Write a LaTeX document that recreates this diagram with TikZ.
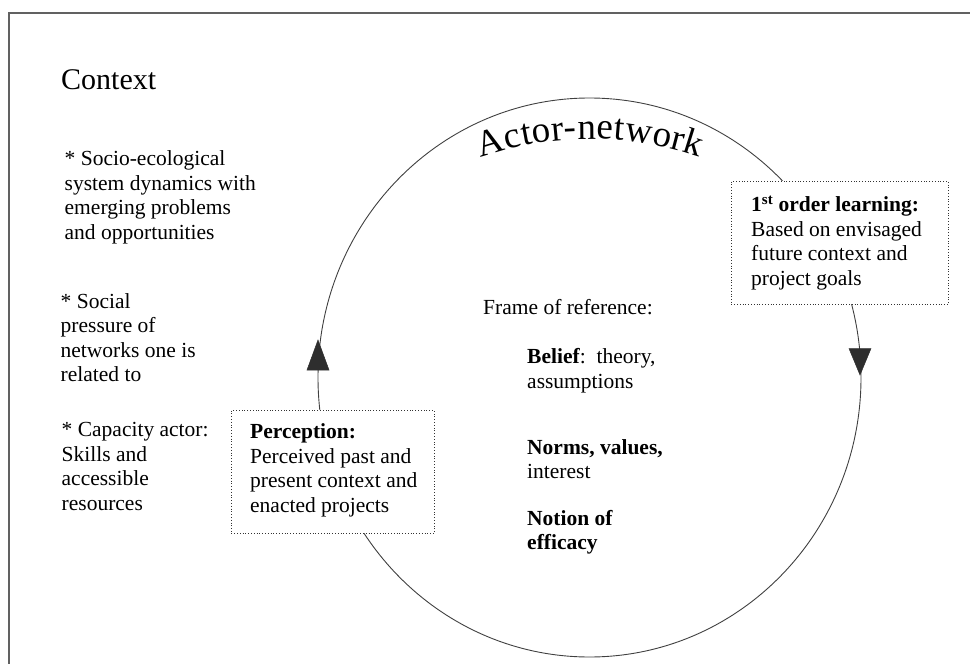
\documentclass[tikz,border=0pt]{standalone}
\usepackage{fontspec}
\setmainfont{Liberation Serif}
\usetikzlibrary{shapes.geometric,decorations.text}
\begin{document}
\begin{tikzpicture}[x=1pt,y=1pt,
  body/.style={inner sep=0pt, anchor=north west, align=left, font=\fontsize{21.5}{24.5}\selectfont},
  single/.style={inner sep=0pt, anchor=base west, font=\fontsize{21.5}{24.5}\selectfont},
  learnbox/.style={draw=black!80, dotted, fill=white, line width=0.8pt, inner sep=0pt, anchor=north west},
  loopline/.style={draw=black!75, line width=0.9pt},
  arrowhd/.style={fill=black!82, draw=black!82, line width=0.5pt},
  framecol/.style={draw=black!62, line width=1.6pt}
]
\useasboundingbox (0,0) rectangle (970,-664);
% outer frame (top and left edges)
\coordinate (ftr) at (970,-13);
\coordinate (ftl) at (9,-13);
\coordinate (fbl) at (9,-664);
\draw[framecol] (ftr) -- (ftl) -- (fbl);

% actor-network cycle
\node[ellipse, loopline, minimum width=543, minimum height=559, inner sep=0pt] (cyc) at (589.5,-377.5) {};
\path[decorate, decoration={text along path, text align={fit to path},
  text={|\fontsize{37}{42}\selectfont|Actor-network}}]
  (590,-475) ++(109:336) arc[start angle=109, end angle=71, radius=336];

% arrowheads on the cycle
\coordinate (uptip) at (318,-340);
\coordinate (dntip) at (860,-375);
\fill[arrowhd] (uptip) -- ++(-11,-30) -- ++(22,0) -- cycle;
\fill[arrowhd] (dntip) -- ++(-11,26.5) -- ++(22,0) -- cycle;

% boxes
\node[learnbox, minimum width=203, minimum height=123] (percbox) at (231,-410) {};
\node[learnbox, minimum width=217, minimum height=123] (learnbx) at (731,-181) {};

% context column
\node[inner sep=0pt, anchor=base west, font=\fontsize{30}{34}\selectfont] (ctx) at (61,-89.5) {Context};
\node[body] (ctx1) at (64.5,-150.5) {* Socio-ecological\\system dynamics with\\emerging problems\\and opportunities};
\node[body] (ctx2) at (60.5,-293) {* Social\\pressure of\\networks one is\\related to};
\node[body] (ctx3) at (61.5,-422.5) {* Capacity actor:\\Skills and\\accessible\\resources};

% box texts
\node[body] (perc) at (250,-423.5) {\textbf{Perception:}\\Perceived past and\\present context and\\enacted projects};
\node[body] (learn) at (751,-195.5) {\textbf{1\textsuperscript{st} order learning:}\\Based on envisaged\\future context and\\project goals};

% frame of reference
\node[single] (frame) at (483,-314) {Frame of reference:};
\node[body] (belief) at (527,-348.5) {\textbf{Belief}:\ \ theory,\\assumptions};
\node[body] (norms) at (527,-439) {\textbf{Norms, values,}\\interest};
\node[body] (notion) at (527,-510) {\textbf{Notion of}\\\textbf{efficacy}};
\end{tikzpicture}
\end{document}
